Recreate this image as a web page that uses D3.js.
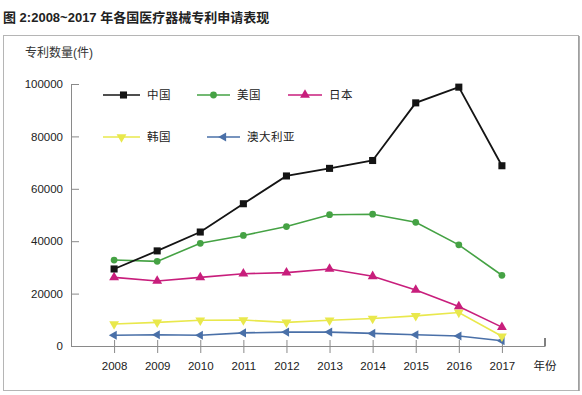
<!DOCTYPE html>
<html>
<head>
<meta charset="utf-8">
<script src="https://cdn.jsdelivr.net/npm/d3@7"></script>
<style>
  body { margin: 0; background: #fff; }
  svg { display: block; font-family: "Liberation Sans", Arial, "Noto Sans CJK SC", sans-serif; }
</style>
</head>
<body>
<svg id="chart" width="582" height="395"></svg>
<script>
"use strict";

// Data
var years = [2008, 2009, 2010, 2011, 2012, 2013, 2014, 2015, 2016, 2017];
var yTicks = [0, 20000, 40000, 60000, 80000, 100000];
var names = ["中国", "美国", "日本", "韩国", "澳大利亚"];
var china = [29400, 36300, 43500, 54300, 64900, 67800, 70800, 92800, 98800, 68800];
var usa = [32800, 32300, 39200, 42200, 45600, 50100, 50300, 47200, 38600, 27000];
var japan = [26200, 24800, 26200, 27600, 28000, 29400, 26600, 21400, 15100, 7200];
var korea = [8400, 9000, 9800, 9900, 9000, 9800, 10500, 11500, 12800, 3700];
var australia = [4100, 4300, 4100, 5000, 5300, 5300, 4800, 4300, 3800, 2000];

// Styles
var colours = ["#141414", "#45a244", "#c81e7c", "#e9e84c", "#4a70a8"];
var symbols = [d3.symbolSquare, d3.symbolCircle, d3.symbolTriangle, d3.symbolTriangle, d3.symbolTriangle];
var sizes = [50, 36, 42, 42, 36];
var rotations = [0, 0, 0, 180, -90];
var values = [china, usa, japan, korea, australia];

var svg = d3.select("#chart");

// Frame and title
svg.append("rect")
  .attr("x", 3.5).attr("y", 35.5)
  .attr("width", 575).attr("height", 355)
  .attr("fill", "none").attr("stroke", "#b5b5b5");
svg.append("line")
  .attr("x1", 579).attr("y1", 36).attr("x2", 579).attr("y2", 391)
  .attr("stroke", "#999").attr("stroke-width", 1.5);

svg.append("text")
  .attr("x", 3).attr("y", 22)
  .attr("font-size", 13).attr("font-weight", "bold").attr("fill", "#222")
  .text("图 2:2008~2017 年各国医疗器械专利申请表现");

svg.append("text")
  .attr("x", 25).attr("y", 57)
  .attr("font-size", 12).attr("fill", "#333")
  .text("专利数量(件)");

// Scales
var x = d3.scaleLinear().domain([2007, 2018]).range([71, 545]);
var y = d3.scaleLinear().domain([0, 100000]).range([346, 84]);

// Y axis (ticks point inward)
var yAxis = svg.append("g")
  .attr("transform", "translate(" + x(2007) + ",0)")
  .call(d3.axisLeft(y).tickValues(yTicks).tickFormat(d3.format("d"))
    .tickSizeInner(-8).tickSizeOuter(0).tickPadding(8));
yAxis.selectAll("text").attr("font-size", 11.5).attr("fill", "#222")
  .attr("font-family", "Liberation Sans, Arial, sans-serif");

// X axis
var xAxis = svg.append("g")
  .attr("transform", "translate(0," + y(0) + ")")
  .call(d3.axisBottom(x).tickValues(years).tickFormat(d3.format("d"))
    .tickSizeOuter(0));
xAxis.selectAll(".tick line").attr("y1", -6).attr("y2", 7);
xAxis.selectAll("text").attr("font-size", 11.5).attr("fill", "#222")
  .attr("y", 24).attr("dy", 0)
  .attr("font-family", "Liberation Sans, Arial, sans-serif");
xAxis.append("line")
  .attr("x1", x(2018)).attr("x2", x(2018)).attr("y1", -8).attr("y2", 0)
  .attr("stroke", "currentColor");
xAxis.append("text")
  .attr("x", x(2018)).attr("y", 24)
  .attr("text-anchor", "middle").attr("font-size", 11.5).attr("fill", "#222")
  .attr("font-family", "Noto Sans CJK SC, sans-serif")
  .text("年份");

svg.selectAll(".domain, .tick line").attr("stroke", "#8a8a8a");

// Series
var line = d3.line()
  .x(function(d, i) { return x(years[i]); })
  .y(function(d) { return y(d); });

function marker(sel, i) {
  sel.attr("d", d3.symbol().type(symbols[i]).size(sizes[i])())
    .attr("fill", colours[i]);
}

for (let i = values.length - 1; i >= 0; i--) {
  var g = svg.append("g");
  g.append("path")
    .attr("d", line(values[i]))
    .attr("fill", "none")
    .attr("stroke", colours[i])
    .attr("stroke-width", i === 0 ? 1.8 : 1.6);
  g.selectAll("path.pt")
    .data(values[i])
    .enter().append("path")
    .attr("class", "pt")
    .attr("transform", function(d, j) {
      return "translate(" + x(years[j]) + "," + y(d) + ") rotate(" + rotations[i] + ")";
    })
    .call(marker, i);
}

// Legend
var legendPos = [[103, 95], [197, 95], [288, 95], [103, 137], [207, 137]];
var legendLen = [37, 33, 34, 37, 33];

names.forEach(function(name, i) {
  var lx = legendPos[i][0];
  var ly = legendPos[i][1];
  var lg = svg.append("g");
  lg.append("line")
    .attr("x1", lx).attr("x2", lx + legendLen[i])
    .attr("y1", ly).attr("y2", ly)
    .attr("stroke", colours[i]).attr("stroke-width", 1.6);
  lg.append("path")
    .attr("transform", "translate(" + (lx + legendLen[i] / 2 + (i === 0 ? 2 : 0)) + "," + ly + ") rotate(" + rotations[i] + ")")
    .call(marker, i);
  lg.append("text")
    .attr("x", lx + legendLen[i] + 7).attr("y", ly + 4)
    .attr("font-size", 11.5).attr("fill", "#222")
    .attr("letter-spacing", 0.5)
    .attr("font-family", "Noto Sans CJK SC, sans-serif")
    .text(name);
});
</script>
</body>
</html>
